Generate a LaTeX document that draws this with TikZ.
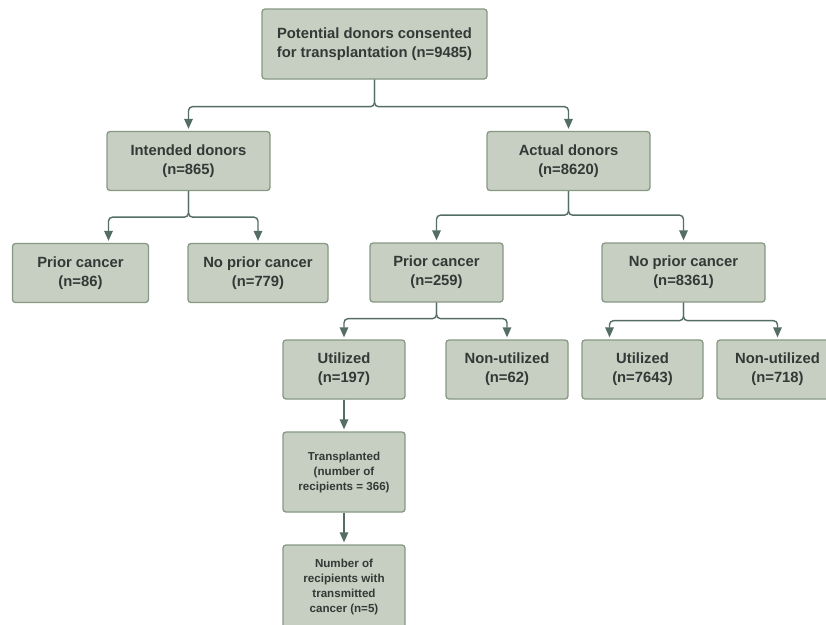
\documentclass[tikz,border=0pt]{standalone}
\usepackage{fontspec}
\setmainfont{Liberation Sans}
\usetikzlibrary{positioning,arrows.meta}
\definecolor{boxfill}{RGB}{198,207,193}
\definecolor{boxline}{RGB}{136,152,133}
\definecolor{boxtext}{RGB}{52,56,54}
\definecolor{linkc}{RGB}{84,109,101}
\begin{document}
\begin{tikzpicture}[x=1pt,y=-1pt,
	box/.style={draw=boxline,fill=boxfill,line width=1.3pt,rounded corners=3pt,align=center,
		inner sep=0pt,text=boxtext,font=\bfseries\fontsize{14.8}{19}\selectfont},
	small/.style={font=\bfseries\fontsize{11.6}{15}\selectfont},
	link/.style={draw=linkc,line width=1.4pt,rounded corners=4pt,
		-{Triangle[length=10pt,width=8.5pt]},shorten >=2pt}]
	\fill[white] (0,0) rectangle (826,624);
	\useasboundingbox (0,0) rectangle (826,624);

	\node[box,minimum width=225pt,minimum height=70pt] (pot) at (374.5,44) {Potential donors consented\\for transplantation (n=9485)};
	\node[box,minimum width=163pt,minimum height=59pt] (ind) at (188.5,161) {Intended donors\\(n=865)};
	\node[box,minimum width=163pt,minimum height=59pt] (act) at (568.5,161) {Actual donors\\(n=8620)};
	\node[box,minimum width=136pt,minimum height=59pt] (ipc) at (80.5,273) {Prior cancer\\(n=86)};
	\node[box,minimum width=140pt,minimum height=59pt] (inp) at (258,273) {No prior cancer\\(n=779)};
	\node[box,minimum width=133pt,minimum height=59pt] (apc) at (436.5,272.5) {Prior cancer\\(n=259)};
	\node[box,minimum width=163pt,minimum height=59pt] (anp) at (683.5,272.5) {No prior cancer\\(n=8361)};
	\node[box,minimum width=122pt,minimum height=59pt] (pu) at (344,369.5) {Utilized\\(n=197)};
	\node[box,minimum width=122pt,minimum height=59pt] (pn) at (507,369.5) {Non-utilized\\(n=62)};
	\node[box,minimum width=121pt,minimum height=59pt] (nu) at (642.5,369.5) {Utilized\\(n=7643)};
	\node[box,minimum width=121pt,minimum height=59pt] (nn) at (777.5,369.5) {Non-utilized\\(n=718)};
	\node[box,small,minimum width=122pt,minimum height=80pt] (tx) at (344,472) {Transplanted\\(number of\\recipients = 366)};
	\node[box,small,minimum width=122pt,minimum height=84pt] (rc) at (344,587) {Number of\\recipients with\\transmitted\\cancer (n=5)};

	\draw[link] (pot.south) -- ++(0,27) -| (ind.north);
	\draw[link] (pot.south) -- ++(0,27) -| (act.north);
	\draw[link] (ind.south) -- ++(0,26) -| ([xshift=28pt]ipc.north);
	\draw[link] (ind.south) -- ++(0,26) -| (inp.north);
	\draw[link] (act.south) -- ++(0,24) -| (apc.north);
	\draw[link] (act.south) -- ++(0,24) -| (anp.north);
	\draw[link] (apc.south) -- ++(0,16) -| (pu.north);
	\draw[link] (apc.south) -- ++(0,16) -| (pn.north);
	\draw[link] (anp.south) -- ++(0,18) -| ([xshift=-33pt]nu.north);
	\draw[link] (anp.south) -- ++(0,18) -| (nn.north);
	\draw[link] (pu) -- (tx);
	\draw[link] (tx) -- (rc);
\end{tikzpicture}
\end{document}
